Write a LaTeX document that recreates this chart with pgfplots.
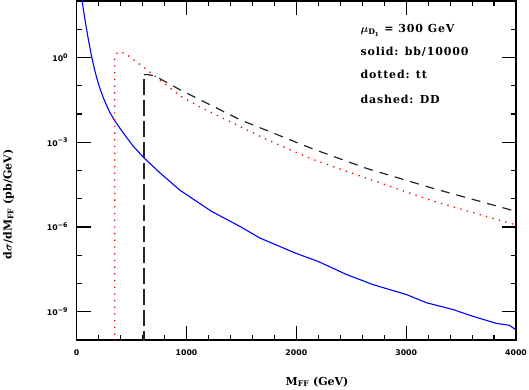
\documentclass[border=0pt]{standalone}
\usepackage{amsmath}
\usepackage{fontspec}
\setmainfont{DejaVu Serif}
\newfontfamily\lblfont[LetterSpace=8]{DejaVu Serif}
\newfontfamily\tickfont{DejaVu Sans}
\usepackage{pgfplots}
\pgfplotsset{compat=1.18}
\newcommand{\ex}[1]{10\raisebox{3.2pt}{\fontsize{6.4}{7}\selectfont #1}}

\begin{document}
\begin{tikzpicture}
\begin{axis}[
  scale only axis, width=439.3pt, height=339pt,
  xmin=0, xmax=4000, ymode=log, ymin=1e-10, ymax=1e2,
  xtick={0,1000,2000,3000,4000}, xticklabels={0,1000,2000,3000,4000},
  minor xtick={200,400,600,800,1200,1400,1600,1800,2200,2400,2600,2800,3200,3400,3600,3800},
  ytick={1e-9,1e-6,1e-3,1},
  yticklabels={\ex{−9},\ex{−6},\ex{−3},\ex{0}},
  minor ytick={1e-10,1e-8,1e-7,1e-5,1e-4,1e-2,1e-1,1e1,1e2},
  tick align=inside, major tick length=14pt, minor tick length=5.5pt,
  tick style={black, line width=1.1pt},
  axis line style={line width=1.3pt},
  ticklabel style={font=\tickfont\bfseries\fontsize{7.8}{9}\selectfont},
  xticklabel style={anchor=north, yshift=-6pt},
  yticklabel style={anchor=east, xshift=-5.5pt},
  xlabel={M\textsubscript{FF} (GeV)},
  xlabel style={font=\fontsize{11}{13}\selectfont\bfseries, at={(rel axis cs:0.547,0)}, anchor=base, yshift=-45pt},
  ylabel={d$\boldsymbol{\sigma}$/dM\textsubscript{FF} (pb/GeV)},
  ylabel style={font=\fontsize{11}{13}\selectfont\bfseries, at={(axis description cs:-0.1553,0.40)}, anchor=center},
  clip=true,
]
% bb/10000 (solid)
\addplot[blue, line width=1.1pt] coordinates {
  (40,166)(45,126)(75,22.4)(105,4.57)(135,1.12)(160,0.417)(182,0.19)(210,0.0832)
  (242,0.038)(275,0.019)(303,0.0112)(348,5.6e-3)(424,2.14e-3)(515,7.24e-4)
  (612,2.82e-4)(757,8.32e-5)(940,2.0e-5)(1002,1.38e-5)(1229,3.55e-6)(1486,1.05e-6)
  (1668,4.07e-7)(2002,1.15e-7)(2200,6.0e-8)(2456,2.09e-8)(2698,9.12e-9)(3002,4.07e-9)
  (3184,2.09e-9)(3425,1.20e-9)(3607,6.92e-10)(3820,3.89e-10)(3941,3.31e-10)(3995,2.34e-10)};
% tt (dotted)
\addplot[red, line width=1.3pt, dash pattern=on 1.3pt off 5.4pt] coordinates {
  (346,1e-11)(347,0.9)(360,1.35)(385,1.62)(439,1.4)(500,0.95)(560,0.63)(620,0.42)
  (700,0.24)(818,0.105)(950,0.042)(1121,0.0178)(1424,4.79e-3)(1727,1.26e-3)
  (2030,3.89e-4)(2151,2.45e-4)(2636,5.37e-5)(3243,8.32e-6)(3985,1.23e-6)(4000,1.2e-6)};
% DD (dashed)
\addplot[black!85, line width=1.2pt, dash pattern=on 16pt off 5pt] coordinates {
  (612,1e-11)(612,0.245)};
\addplot[black!85, line width=1.2pt, dash pattern=on 9pt off 7pt] coordinates {
  (612,0.245)(640,0.25)(680,0.235)(712,0.224)(939,0.0724)(1212,0.0214)(1485,6.31e-3)
  (1787,2.14e-3)(2030,8.91e-4)(2181,5.25e-4)(2636,1.2e-4)(3243,2.34e-5)(3994,3.63e-6)(4000,3.55e-6)};
\node[anchor=base west, font=\lblfont\bfseries\fontsize{11}{13}\selectfont] at (rel axis cs:0.638,0.908) {$\boldsymbol{\mu}_{\mathbf{D}_{\mathbf{1}}}$ = 300 GeV};
\node[anchor=base west, font=\lblfont\bfseries\fontsize{11}{13}\selectfont] at (rel axis cs:0.638,0.839) {solid: bb/10000};
\node[anchor=base west, font=\lblfont\bfseries\fontsize{11}{13}\selectfont] at (rel axis cs:0.638,0.770) {dotted: tt};
\node[anchor=base west, font=\lblfont\bfseries\fontsize{11}{13}\selectfont] at (rel axis cs:0.638,0.699) {dashed: DD};
\end{axis}
\pgfresetboundingbox
\path[use as bounding box] (-76.7pt,-50pt) rectangle (452.3pt,340pt);
\end{tikzpicture}
\end{document}
